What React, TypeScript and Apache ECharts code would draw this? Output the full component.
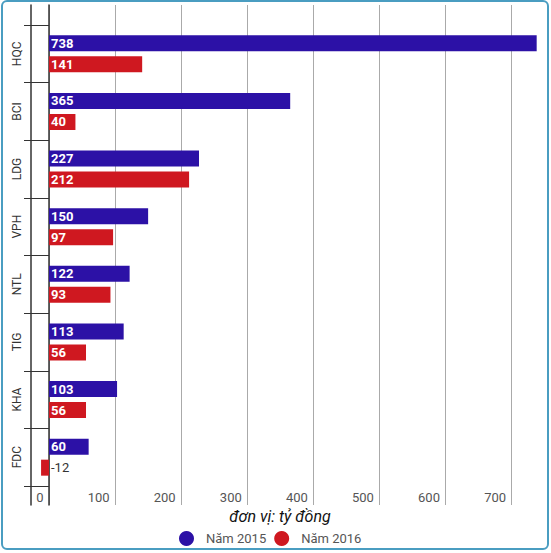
import React, { useEffect, useRef } from 'react';
import * as echarts from 'echarts';

const categories = ['HQC', 'BCI', 'LDG', 'VPH', 'NTL', 'TIG', 'KHA', 'FDC'];
const values2015 = [738, 365, 227, 150, 122, 113, 103, 60];
const values2016 = [141, 40, 212, 97, 93, 56, 56, -12];
const xTicks = { min: 0, max: 740, interval: 100 };

const BLUE = '#2c11a6';
const RED = '#cf1820';

const App: React.FC = () => {
    const chartRef = useRef<HTMLDivElement>(null);

    useEffect(() => {
        if (!chartRef.current) return;
        const chart = echarts.init(chartRef.current, null, { renderer: 'svg' });

        const valueLabel = {
            show: true,
            position: 'insideLeft' as const,
            distance: 2,
            color: '#fff',
            fontWeight: 'bold' as const,
            fontSize: 13,
        };

        // the negative value gets its label outside, in dark grey
        const data2016 = values2016.map(v =>
            v < 0
                ? { value: v, label: { position: 'right', color: '#333', fontWeight: 'normal' } }
                : v
        );

        const option: echarts.EChartsOption = {
            animation: false,
            backgroundColor: '#fff',
            textStyle: { fontFamily: 'Roboto' },
            title: {
                text: 'đơn vị: tỷ đồng',
                left: 280,
                top: 508,
                textAlign: 'center',
                padding: 0,
                textStyle: { fontStyle: 'italic', fontWeight: 'normal', fontSize: 16, color: '#111', fontFamily: 'Roboto' },
            },
            legend: {
                left: 179,
                top: 531,
                padding: 0,
                icon: 'circle',
                itemWidth: 29,
                itemHeight: 15,
                itemGap: 8,
                textStyle: { fontSize: 13, color: '#555' },
                data: ['Năm 2015', 'Năm 2016'],
            },
            grid: [
                { left: 49, top: 25, width: 489, height: 461 },
                { left: 49, top: 5, width: 489, height: 500 },
            ],
            xAxis: [
                {
                    type: 'value', gridIndex: 0, min: xTicks.min, max: xTicks.max,
                    axisLine: { show: false }, axisTick: { show: false }, axisLabel: { show: false }, splitLine: { show: false },
                },
                {
                    type: 'value', gridIndex: 1, min: xTicks.min, max: xTicks.max, interval: xTicks.interval,
                    axisLine: { show: false },
                    axisTick: { show: false },
                    axisLabel: {
                        inside: true,
                        margin: 7.5,
                        verticalAlign: 'middle',
                        align: 'right',
                        padding: [0, 5.5, 0, 0],
                        fontSize: 13,
                        color: '#555',
                        showMaxLabel: false,
                    },
                    splitLine: { show: true, showMaxLine: false, lineStyle: { color: '#aaa', width: 1 } },
                },
            ],
            yAxis: [
                {
                    type: 'category', gridIndex: 0, data: categories, inverse: true,
                    position: 'left', offset: 18,
                    axisLine: { show: false },
                    axisTick: { show: true, length: 25, lineStyle: { color: '#333', width: 1 } },
                    axisLabel: { rotate: 90, margin: 8, fontSize: 12, color: '#333' },
                },
                {
                    type: 'value', gridIndex: 1, min: 0, max: 1, position: 'left',
                    axisLine: { show: true, lineStyle: { color: '#333', width: 1.5 } },
                    axisTick: { show: false }, axisLabel: { show: false }, splitLine: { show: false },
                },
                {
                    type: 'value', gridIndex: 1, min: 0, max: 1, position: 'left', offset: 18,
                    axisLine: { show: true, lineStyle: { color: '#333', width: 1.5 } },
                    axisTick: { show: false }, axisLabel: { show: false }, splitLine: { show: false },
                },
            ],
            series: [
                {
                    name: 'Năm 2015', type: 'bar', xAxisIndex: 0, yAxisIndex: 0,
                    data: values2015, barWidth: 16, barGap: '31%',
                    itemStyle: { color: BLUE },
                    label: valueLabel,
                },
                {
                    name: 'Năm 2016', type: 'bar', xAxisIndex: 0, yAxisIndex: 0,
                    data: data2016 as any, barWidth: 16, barGap: '31%', clip: false,
                    itemStyle: { color: RED },
                    label: valueLabel,
                },
            ],
        };

        chart.setOption(option);
        return () => chart.dispose();
    }, []);

    return (
        <div style={{ position: 'absolute', left: 0, top: 0, width: 551, height: 553 }}>
            <div ref={chartRef} style={{ position: 'absolute', left: 0, top: 0, width: 551, height: 553 }} />
            <div style={{
                position: 'absolute', left: 1, top: 0, width: 548, height: 550,
                boxSizing: 'border-box', border: '2.5px solid #4a9dc1', borderRadius: 6,
                pointerEvents: 'none',
            }} />
        </div>
    );
};

export default App;
